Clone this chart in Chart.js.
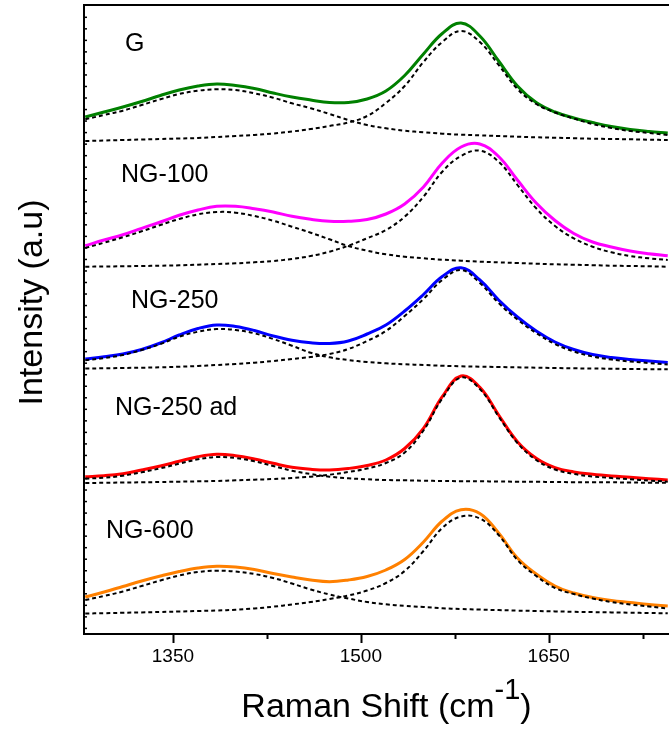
<!DOCTYPE html>
<html>
<head>
<meta charset="utf-8">
<script src="https://cdn.jsdelivr.net/npm/chart.js@4/dist/chart.umd.min.js"></script>
<style>
  html, body { margin: 0; padding: 0; background: #fff; }
  #wrap { width: 669px; height: 729px; }
</style>
</head>
<body>
<div id="wrap"><canvas id="raman"></canvas></div>
<script>
// Raman shift sampling points (cm-1)
const shift = [1280,1295,1310,1325,1340,1355,1370,1385,1400,1415,1430,1445,1460,1475,1490,1505,
               1520,1535,1550,1565,1580,1595,1610,1625,1640,1655,1670,1685,1700,1715,1730,1745];

// G
const gSpec = [517,522,527,532.5,538.5,544,548,550,548.5,545.5,541,537,534,531.5,531.5,535,
               543,558.5,580,600.5,611,598,573,548,531.5,522,516,511.5,507.5,504.5,502.5,501];
const gD    = [514.7,519,523.3,529,534.7,540,543.3,544.7,544,540.7,536.3,530.7,525.7,520,514,509,
               505.7,503.3,501.7,500.3,499.3,498.7,498,497.3,496.7,496.3,495.8,495.3,495,494.7,494.3,494];
const gG    = [493,493.5,494,494.5,495,495.5,496,497,498,499,500.5,502.5,505,508,511.5,518,
               531,548,572,592,603,592,569,545,530,521.5,515.5,510,506,503,501,499];

// NG-100
const mSpec = [388.3,394,399.3,405.7,412,418.7,424,427.7,427.7,425.3,422,417.7,414.7,412.7,412.7,414.5,
               420,430,447,471,487,490,477.5,454,431,413.5,400.5,392,387,383,380.3,378.3];
const mD    = [386,391.3,396.7,402.7,409,415,419.7,422,421.3,418,413.3,407.3,401.3,394.7,388,383.3,
               379.7,377.3,375.7,374.3,373.3,372.3,371.7,371,370.3,369.7,369.3,368.8,368.3,368,367.7,367.3];
const mG    = [367.3,367.5,367.7,368,368.3,368.7,369.3,370,370.7,371.7,373,375,378,382.3,388.3,395.7,
               404,417.3,437.3,462.3,478,483.3,472.3,449,425.7,408,395.7,387.3,381.7,378,375.7,374];

// NG-250
const bSpec = [275,277.3,280,284.5,291,299,305.5,309,307.5,303.5,298,293.7,291.2,290.5,293,300,
               309,323,339.5,357.5,366.3,354,334,317,303,292,284.5,279.5,276.5,274.5,273,271.5];
const bD    = [273.7,276,279,284,290,297.3,302.3,305,304,300.7,295,288.3,281.3,276.7,274,272,
               270.7,269.7,269,268.3,267.7,267.3,267,266.7,266.3,266,265.7,265.5,265.3,265,264.8,264.7];
const bG    = [265.5,265.7,266,266.3,266.7,267.3,268,269,270,271.3,273,275,277,280,285,293,
               303,318,335,354,364,351,331,314.5,301,290,282.5,277.5,274.5,272.5,271,269.5];

// NG-250 ad
const rSpec = [157.3,158.3,160.3,164,168,172.7,177.3,179.7,178.3,175,170.7,166.7,164.7,164,165.5,168.5,
               174,185.5,205.7,237.3,258,246.7,219,192.3,175.7,166.3,162,159.7,158,156.7,155.3,154];
const rD    = [155.3,156.3,158.3,161.7,165.7,170.3,174.7,177,176,172.7,168,163.3,160,157.3,155.7,154.7,
               154,153.7,153.3,153,152.8,152.7,152.5,152.3,152.2,152,151.8,151.7,151.7,151.5,151.3,151.3];
const rG    = [151,151.2,151.5,151.7,152,152.3,152.7,153,153.7,154.3,155,156,157.3,159.3,162,165.5,
               171,181.5,203.5,235.5,256.5,245,217.5,191,174,164.5,160,157.5,156,154.7,153.5,152.3];

// NG-600
const oSpec = [37,42,47.5,53,58,62.5,66,67.8,67,64.5,60.5,57,54,52.3,54,57.5,
               64,74.5,92,113,124.3,120.5,101,76,60,48,41,36.5,33.5,31.5,29.5,28];
const oD    = [34,38,42.5,48,53.5,58.5,62,63.3,62.5,60,56,50.5,44.5,39.5,35.5,32,
               29.7,28.2,27,25.8,25,24.4,23.9,23.4,23,22.6,22.2,21.9,21.6,21.3,21,20.7];
const oG    = [20.5,20.8,21.2,21.6,22,22.5,23,23.5,24.3,25.5,27.3,29.5,32,35,38.5,43.5,
               51,63,83,106,117.5,115.5,99,74,58,46,40,35.5,32,29.5,27.5,25.5];

const names  = ['G', 'NG-100', 'NG-250', 'NG-250 ad', 'NG-600'];
const colors = ['#008000', '#ff00ff', '#0000ff', '#ff0000', '#ff8000'];
const spectra = [gSpec, mSpec, bSpec, rSpec, oSpec];
const dBands  = [gD, mD, bD, rD, oD];
const gBands  = [gG, mG, bG, rG, oG];

const xTicks = [1350, 1425, 1500, 1575, 1650, 1725];
const xTickLabels = ['1350', '', '1500', '', '1650', ''];

// where each sample name sits (x in cm-1, y in a.u.)
const nameAt = [[1311.7, 583], [1308.5, 452], [1316.5, 326], [1303.7, 219], [1296.6, 96]];

const FONT = '"Liberation Sans", Arial, Helvetica, sans-serif';
const pts = arr => shift.map((x, j) => ({ x: x, y: arr[j] }));

const datasets = [];
spectra.forEach((s, i) => {
  datasets.push({ label: names[i] + ' D', data: pts(dBands[i]), borderColor: '#000',
    borderWidth: 2, borderDash: [4, 3], order: 0 });
  datasets.push({ label: names[i] + ' G', data: pts(gBands[i]), borderColor: '#000',
    borderWidth: 2, borderDash: [4, 3], order: 0 });
  datasets.push({ label: names[i], data: pts(s), borderColor: colors[i],
    borderWidth: 3, order: 1 });
});

const frame = {
  id: 'frame',
  afterDraw(chart) {
    const { ctx, chartArea: a, scales: { x, y } } = chart;
    ctx.save();
    ctx.strokeStyle = '#000';
    ctx.lineWidth = 2;
    ctx.beginPath();
    ctx.moveTo(a.left - 1, a.top);
    ctx.lineTo(a.right, a.top);
    ctx.stroke();

    // x tick marks, outward
    xTicks.forEach((v, i) => {
      const px = Math.round(x.getPixelForValue(v)) + 0.5;
      ctx.beginPath();
      ctx.moveTo(px, a.bottom);
      ctx.lineTo(px, a.bottom + (xTickLabels[i] ? 9 : 5));
      ctx.stroke();
    });

    // y minor ticks, inward
    ctx.lineWidth = 1.5;
    for (let v = 616.7; v > 2; v -= 11.53) {
      const py = y.getPixelForValue(v);
      ctx.beginPath();
      ctx.moveTo(a.left, py);
      ctx.lineTo(a.left + 3, py);
      ctx.stroke();
    }

    // sample names
    ctx.fillStyle = '#000';
    ctx.font = '25px ' + FONT;
    ctx.textAlign = 'left';
    ctx.textBaseline = 'alphabetic';
    names.forEach((n, i) => {
      ctx.fillText(n, x.getPixelForValue(nameAt[i][0]), y.getPixelForValue(nameAt[i][1]));
    });

    // x title with superscript
    const big = '34px ' + FONT, sup = '29px ' + FONT;
    const t1 = 'Raman Shift (cm', t2 = '-1', t3 = ')';
    ctx.font = big; const w1 = ctx.measureText(t1).width, w3 = ctx.measureText(t3).width;
    ctx.font = sup; const w2 = ctx.measureText(t2).width;
    let sx = (a.left + a.right) / 2 - (w1 + w2 + w3) / 2 + 10;
    const base = a.bottom + 83;
    ctx.font = big; ctx.fillText(t1, sx, base); sx += w1;
    ctx.font = sup; ctx.fillText(t2, sx, base - 18); sx += w2;
    ctx.font = big; ctx.fillText(t3, sx, base);

    // y title
    ctx.save();
    ctx.translate(42, (a.top + a.bottom) / 2 - 17);
    ctx.rotate(-Math.PI / 2);
    ctx.font = big;
    ctx.textAlign = 'center';
    ctx.fillText('Intensity (a.u)', 0, 0);
    ctx.restore();

    ctx.restore();
  }
};

new Chart(document.getElementById('raman'), {
  type: 'line',
  data: { datasets: datasets },
  options: {
    responsive: true,
    maintainAspectRatio: false,
    devicePixelRatio: 1,
    animation: false,
    layout: { padding: { top: 5, right: 0, bottom: 0, left: 0 } },
    elements: {
      point: { radius: 0 },
      line: { tension: 0.4, fill: false }
    },
    plugins: { legend: { display: false }, tooltip: { enabled: false } },
    scales: {
      x: {
        type: 'linear', min: 1279, max: 1746,
        afterBuildTicks: s => { s.ticks = xTicks.map(v => ({ value: v })); },
        afterFit: s => { s.height = 95; },
        grid: { display: false, drawTicks: false },
        border: { display: true, color: '#000', width: 2 },
        ticks: {
          autoSkip: false, maxRotation: 0, padding: 11, color: '#000',
          font: { family: FONT, size: 19 },
          callback: (v, i) => xTickLabels[i]
        }
      },
      y: {
        min: 0, max: 629,
        afterFit: s => { s.width = 84; },
        grid: { display: false, drawTicks: false },
        border: { display: true, color: '#000', width: 2 },
        ticks: { display: false }
      }
    }
  },
  plugins: [frame]
});
</script>
</body>
</html>
